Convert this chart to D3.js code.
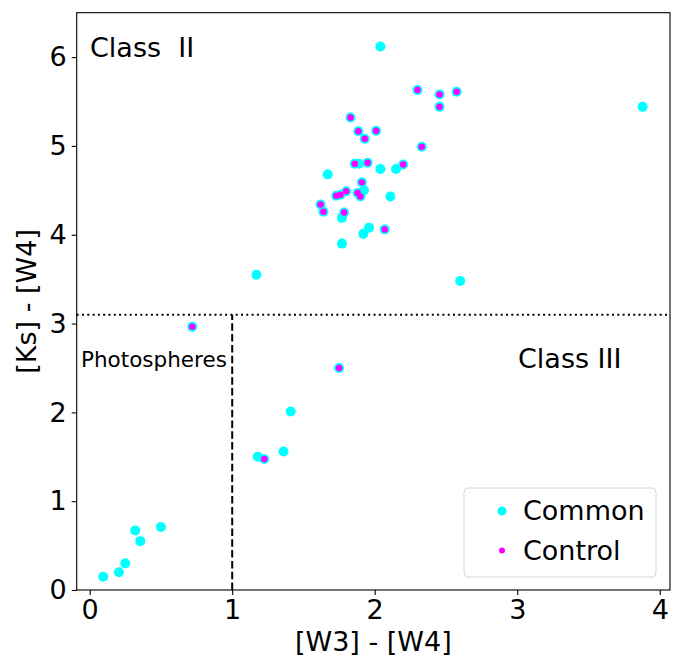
<!DOCTYPE html>
<html>
<head>
<meta charset="utf-8">
<script src="https://cdn.jsdelivr.net/npm/d3@7"></script>
<style>
  body { margin: 0; background: #fff; }
  text { font-family: "DejaVu Sans", sans-serif; fill: #000; }
</style>
</head>
<body>
<div id="chart"></div>
<script>
// Data
// "Common" sample: every point (cyan), control ones included
const cyanOnlyX = [2.04, 3.88, 1.89, 2.04, 2.15, 1.67, 1.925, 2.11, 1.77, 1.96, 1.92, 1.77, 1.17, 2.60, 1.41, 1.18, 1.36, 0.095, 0.205, 0.25, 0.32, 0.355, 0.50];
const cyanOnlyY = [6.12, 5.44, 4.80, 4.74, 4.74, 4.68, 4.50, 4.43, 4.19, 4.08, 4.01, 3.90, 3.55, 3.48, 2.01, 1.50, 1.56, 0.15, 0.20, 0.30, 0.67, 0.55, 0.71];
// "Control" sample (magenta, sits on a cyan point)
const controlX = [2.30, 2.455, 2.575, 2.455, 1.83, 1.885, 2.01, 1.93, 2.33, 1.86, 1.95, 2.20, 1.91, 1.80, 1.76, 1.73, 1.88, 1.90, 1.62, 1.64, 1.785, 2.07, 0.72, 1.75, 1.225];
const controlY = [5.63, 5.58, 5.61, 5.44, 5.32, 5.165, 5.17, 5.08, 4.99, 4.80, 4.81, 4.79, 4.59, 4.49, 4.45, 4.44, 4.47, 4.43, 4.34, 4.26, 4.25, 4.06, 2.965, 2.50, 1.475];
const commonX = cyanOnlyX.concat(controlX);
const commonY = cyanOnlyY.concat(controlY);

const xTicks = [0, 1, 2, 3, 4];
const yTicks = [0, 1, 2, 3, 4, 5, 6];
const classLine = 3.1;   // horizontal dotted line
const photoLine = 1;     // vertical dashed line

const width = 682, height = 657;
const margin = {top: 12.7, right: 12, bottom: 67, left: 76.7};
const fs = 27;

const svg = d3.select("#chart").append("svg")
    .attr("width", width)
    .attr("height", height);

const x = d3.scaleLinear()
    .domain([-0.0912, 4.072])
    .range([margin.left, width - margin.right]);

const y = d3.scaleLinear()
    .domain([0, 6.5])
    .range([height - margin.bottom, margin.top]);

// reference lines
svg.append("line")
    .attr("x1", x.range()[0]).attr("x2", x.range()[1])
    .attr("y1", y(classLine)).attr("y2", y(classLine))
    .attr("stroke", "#000").attr("stroke-width", 2)
    .attr("stroke-dasharray", "2,3.3");

svg.append("line")
    .attr("x1", x(photoLine)).attr("x2", x(photoLine))
    .attr("y1", y(0)).attr("y2", y(classLine))
    .attr("stroke", "#000").attr("stroke-width", 2)
    .attr("stroke-dasharray", "7.5,3.3");

// points
svg.append("g").selectAll("circle")
    .data(commonX.map((d, i) => [d, commonY[i]]))
    .enter().append("circle")
    .attr("cx", d => x(d[0]))
    .attr("cy", d => y(d[1]))
    .attr("r", 5)
    .attr("fill", "#00ffff");

svg.append("g").selectAll("circle")
    .data(controlX.map((d, i) => [d, controlY[i]]))
    .enter().append("circle")
    .attr("cx", d => x(d[0]))
    .attr("cy", d => y(d[1]))
    .attr("r", 3.2)
    .attr("fill", "#ff00ff");

// axes
const xAxis = svg.append("g")
    .attr("transform", `translate(0,${y.range()[0]})`)
    .call(d3.axisBottom(x).tickValues(xTicks).tickSize(5).tickPadding(5).tickFormat(d3.format("d")));
const yAxis = svg.append("g")
    .attr("transform", `translate(${x.range()[0]},0)`)
    .call(d3.axisLeft(y).tickValues(yTicks).tickSize(5).tickPadding(5).tickFormat(d3.format("d")));
[xAxis, yAxis].forEach(a => {
    a.select(".domain").remove();
    a.selectAll("line").attr("stroke", "#000").attr("stroke-width", 1.1);
    a.selectAll("text").style("font-size", fs + "px").attr("font-family", "DejaVu Sans");
});

// frame
svg.append("rect")
    .attr("x", x.range()[0]).attr("y", y.range()[1])
    .attr("width", x.range()[1] - x.range()[0])
    .attr("height", y.range()[0] - y.range()[1])
    .attr("fill", "none").attr("stroke", "#000").attr("stroke-width", 1.1);

// axis titles
svg.append("text")
    .attr("x", (x.range()[0] + x.range()[1]) / 2)
    .attr("y", 651)
    .style("text-anchor", "middle")
    .style("font-size", fs + "px")
    .text("[W3] - [W4]");

svg.append("text")
    .attr("transform", `translate(36, ${(y.range()[0] + y.range()[1]) / 2}) rotate(-90)`)
    .style("text-anchor", "middle")
    .style("font-size", fs + "px")
    .text("[Ks] - [W4]");

// annotations
svg.append("text").attr("x", 90).attr("y", 57)
    .style("font-size", fs + "px").style("white-space", "pre").text("Class  II");
svg.append("text").attr("x", 518).attr("y", 368)
    .style("font-size", fs + "px").text("Class III");
svg.append("text").attr("x", 81).attr("y", 367)
    .style("font-size", "21.5px").text("Photospheres");

// legend
const legend = svg.append("g");
legend.append("rect")
    .attr("x", 464).attr("y", 488).attr("width", 192).attr("height", 89)
    .attr("rx", 4)
    .attr("fill", "#fff").attr("fill-opacity", 0.8)
    .attr("stroke", "#d6d6d6").attr("stroke-width", 1);
const legendItems = [["Common", "#00ffff", 4.5], ["Control", "#ff00ff", 3]];
legendItems.forEach((d, i) => {
    legend.append("circle")
        .attr("cx", 502).attr("cy", 511 + i * 39.5)
        .attr("r", d[2]).attr("fill", d[1]);
    legend.append("text")
        .attr("x", 523).attr("y", 520 + i * 39.5)
        .style("font-size", fs + "px").text(d[0]);
});
</script>
</body>
</html>
